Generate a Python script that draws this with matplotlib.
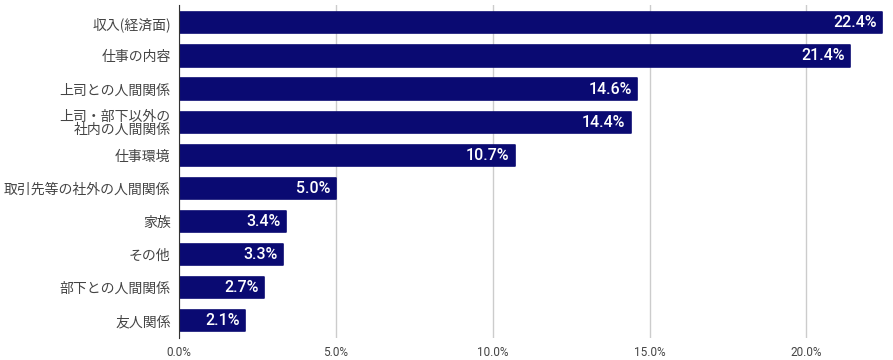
import numpy as np
import matplotlib.pyplot as plt

categories = ['収入(経済面)', '仕事の内容', '上司との人間関係', '上司・部下以外の\n社内の人間関係', '仕事環境',
              '取引先等の社外の人間関係', '家族', 'その他', '部下との人間関係', '友人関係']
values = [22.4, 21.4, 14.6, 14.4, 10.7, 5.0, 3.4, 3.3, 2.7, 2.1]
xticks = [0, 5, 10, 15, 20]

plt.rcParams['font.family'] = ['Noto Sans CJK JP', 'DejaVu Sans']

fig = plt.figure(figsize=(8.93, 3.6), dpi=100)
ax = fig.add_axes([179 / 893, 1 - 338 / 360, (888 - 179) / 893, 333 / 360])

y = np.arange(len(categories))
bars = ax.barh(y, values, height=0.64, color='#0a0a72', edgecolor='#0a0a72',
               linewidth=1.2, zorder=3)
for b in bars:
    b.set_joinstyle('round')

for yi, v in zip(y, values):
    ax.text(v - 0.17, yi, f'{v:.1f}%', ha='right', va='center', color='white',
            fontsize=11.5, fontweight='medium', family=['Roboto', 'DejaVu Sans'], zorder=4)

ax.set_yticks(y)
ax.set_yticklabels(categories, fontsize=10, color='#444444', linespacing=0.95)
ax.set_ylim(len(categories) - 0.48, -0.54)
ax.set_xlim(0, 22.6)
ax.set_xticks(xticks)
ax.set_xticklabels([f'{t:.1f}%' for t in xticks], fontsize=8.5, color='#444444',
                   family=['Roboto', 'DejaVu Sans'])
ax.tick_params(axis='both', length=0)
ax.tick_params(axis='y', pad=6)
ax.tick_params(axis='x', pad=6)

ax.grid(axis='x', color='#cccccc', linewidth=1, zorder=0)
for s in ['top', 'right', 'bottom']:
    ax.spines[s].set_visible(False)
ax.spines['left'].set_color('#333333')
ax.spines['left'].set_zorder(5)

fig.savefig('out.png', dpi=100)
